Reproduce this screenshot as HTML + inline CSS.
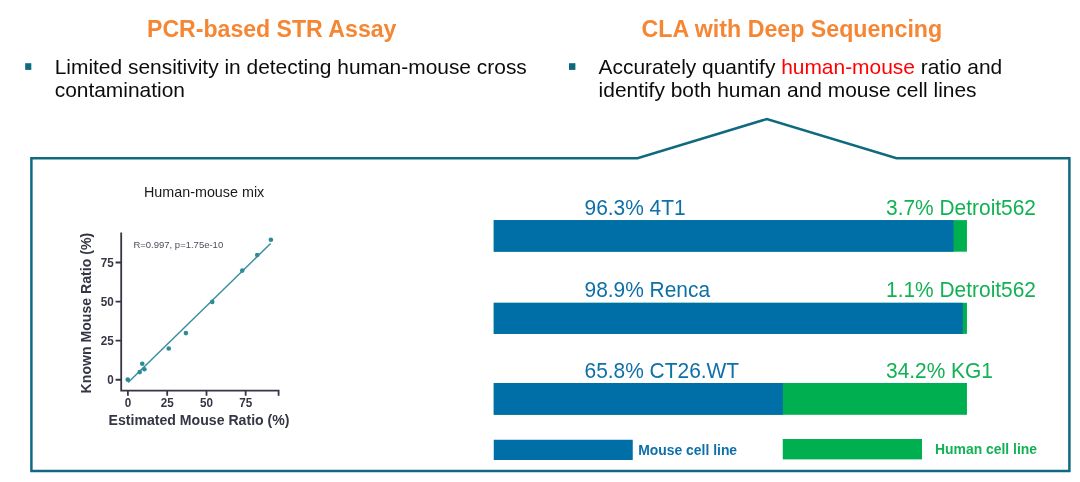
<!DOCTYPE html>
<html lang="en">
<head>
<meta charset="utf-8">
<title>PCR-based STR Assay vs CLA with Deep Sequencing</title>
<style>
html,body{margin:0;padding:0;background:#fff;}
body{width:1080px;height:482px;overflow:hidden;position:relative;font-family:"Liberation Sans",Arial,Helvetica,sans-serif;}
svg{position:absolute;left:0;top:0;display:block;}
text{font-family:"Liberation Sans",Arial,Helvetica,sans-serif;}
.h{font-weight:bold;font-size:23.1px;fill:#f58634;}
.b{font-size:20.93px;fill:#0c0c0c;}
.lb{font-size:20.93px;fill:#0d70a8;}
.lg{font-size:20.93px;fill:#12b154;}
.ax{font-weight:bold;font-size:14.1px;fill:#343645;}
.tk{font-weight:bold;font-size:11.7px;fill:#343645;}
</style>
</head>
<body>
<svg width="1080" height="482" viewBox="0 0 1080 482">
  <!-- headings -->
  <text class="h" x="147" y="37.2">PCR-based STR Assay</text>
  <text class="h" x="641.6" y="37.2" style="font-size:23.2px">CLA with Deep Sequencing</text>

  <!-- bullets -->
  <rect x="25.2" y="63.2" width="6.1" height="6.7" fill="#0b6a7e"/>
  <rect x="569" y="63.2" width="6.4" height="6.7" fill="#0b6a7e"/>

  <!-- body text -->
  <text class="b" x="54.7" y="74.4">Limited sensitivity in detecting human-mouse cross</text>
  <text class="b" x="54.7" y="96.9">contamination</text>
  <text class="b" x="598.6" y="74.4">Accurately quantify <tspan fill="#ff0000">human-mouse</tspan> ratio and</text>
  <text class="b" x="598.6" y="96.9">identify both human and mouse cell lines</text>

  <!-- frame with callout -->
  <path d="M31.4 158.3 H637.5 L766.9 119 L896.5 158.3 H1069.4 V471.1 H31.4 Z" fill="none" stroke="#0f6a80" stroke-width="2.5" stroke-linejoin="miter"/>

  <!-- scatter chart -->
  <text x="144" y="196.5" font-size="14.33" fill="#1a1a1a">Human-mouse mix</text>
  <g stroke="#343645" stroke-width="1.8" fill="none">
    <path d="M121.2 232.5 V390.6 H278.6 V395.8"/>
    <path d="M115.6 262.5 H121 M115.6 301.6 H121 M115.6 340.7 H121 M115.6 379.75 H121"/>
    <path d="M127.9 390.6 V395.8 M167.2 390.6 V395.8 M206.5 390.6 V395.8 M245.65 390.6 V395.8"/>
  </g>
  <g class="tk" text-anchor="end">
    <text transform="translate(113.8 266.8) scale(1 1.055)">75</text>
    <text transform="translate(113.8 305.9) scale(1 1.055)">50</text>
    <text transform="translate(113.8 345.0) scale(1 1.055)">25</text>
    <text transform="translate(113.8 384.0) scale(1 1.055)">0</text>
  </g>
  <g class="tk" text-anchor="middle">
    <text transform="translate(127.9 407.0) scale(1 1.055)">0</text>
    <text transform="translate(167.2 407.0) scale(1 1.055)">25</text>
    <text transform="translate(206.5 407.0) scale(1 1.055)">50</text>
    <text transform="translate(245.65 407.0) scale(1 1.055)">75</text>
  </g>
  <text class="ax" x="108.6" y="425.4">Estimated Mouse Ratio (%)</text>
  <text class="ax" transform="translate(91.3 393.4) rotate(-90)">Known Mouse Ratio (%)</text>
  <text x="133.4" y="248.3" font-size="9.5" fill="#4a4e58">R=0.997, p=1.75e-10</text>
  <line x1="128.1" y1="382.5" x2="270.6" y2="243.5" stroke="#3a8f9c" stroke-width="1.5"/>
  <g fill="#2f8a98">
    <circle cx="127.75" cy="379.6" r="2.3"/>
    <circle cx="139.75" cy="372.1" r="2.3"/>
    <circle cx="142.25" cy="363.75" r="2.3"/>
    <circle cx="144.4" cy="369.25" r="2.3"/>
    <circle cx="168.75" cy="348.5" r="2.3"/>
    <circle cx="185.9" cy="333.1" r="2.3"/>
    <circle cx="212.25" cy="301.9" r="2.3"/>
    <circle cx="242.25" cy="270.6" r="2.3"/>
    <circle cx="257.25" cy="255" r="2.3"/>
    <circle cx="270.9" cy="239.75" r="2.3"/>
  </g>

  <!-- bars -->
  <rect x="493.75" y="220.1" width="473.2" height="31.6" fill="#00b050"/>
  <rect x="493.75" y="220.1" width="459.85" height="31.6" fill="#006fa8"/>
  <rect x="493.75" y="302.8" width="473.2" height="31.1" fill="#00b050"/>
  <rect x="493.75" y="302.8" width="469" height="31.1" fill="#006fa8"/>
  <rect x="493.75" y="383" width="473.2" height="31.8" fill="#00b050"/>
  <rect x="493.75" y="383" width="289.1" height="31.8" fill="#006fa8"/>

  <text class="lb" transform="translate(584.5 214.9) scale(1 1.045)">96.3% 4T1</text>
  <text class="lg" transform="translate(886.0 214.9) scale(1 1.045)">3.7% Detroit562</text>
  <text class="lb" transform="translate(584.5 296.7) scale(1 1.045)">98.9% Renca</text>
  <text class="lg" transform="translate(886.0 296.7) scale(1 1.045)">1.1% Detroit562</text>
  <text class="lb" transform="translate(584.5 377.7) scale(1 1.045)">65.8% CT26.WT</text>
  <text class="lg" transform="translate(886.0 377.7) scale(1 1.045)">34.2% KG1</text>

  <!-- legend -->
  <rect x="493.75" y="439.75" width="139" height="20.25" fill="#006fa8"/>
  <text x="638.2" y="454.9" font-size="13.92" font-weight="bold" fill="#0d70a8">Mouse cell line</text>
  <rect x="782.75" y="439" width="139.25" height="20.4" fill="#00b050"/>
  <text x="935" y="453.7" font-size="13.92" font-weight="bold" fill="#12b154">Human cell line</text>
</svg>
</body>
</html>
